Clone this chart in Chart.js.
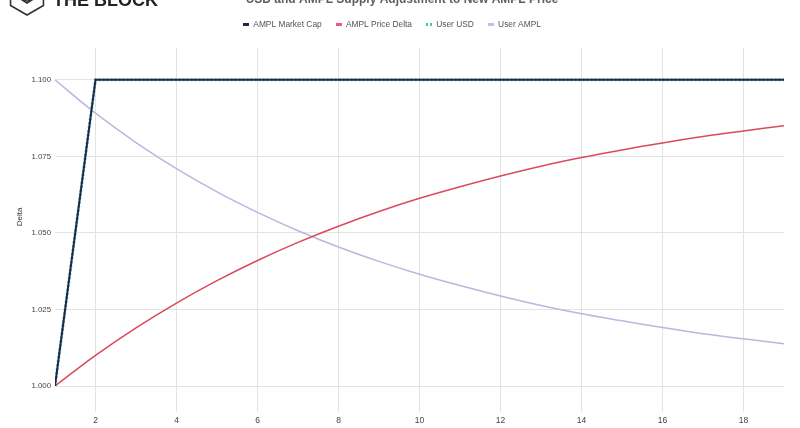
<!DOCTYPE html>
<html>
<head>
<meta charset="utf-8">
<script src="https://cdn.jsdelivr.net/npm/chart.js@4"></script>
<style>
html,body{margin:0;padding:0;background:#fff;}
#wrap{width:800px;height:428px;position:relative;}
</style>
</head>
<body>
<div id="wrap"><canvas id="c" width="800" height="428"></canvas></div>
<script>
const periods = [1,2,3,4,5,6,7,8,9,10,11,12,13,14,15,16,17,18,19];
const marketCap = [1.000,1.100,1.100,1.100,1.100,1.100,1.100,1.100,1.100,1.100,1.100,1.100,1.100,1.100,1.100,1.100,1.100,1.100,1.100];
const priceDelta = [1.0000,1.0100,1.0190,1.0271,1.0344,1.0410,1.0469,1.0522,1.0570,1.0613,1.0651,1.0686,1.0718,1.0746,1.0771,1.0794,1.0815,1.0833,1.0850];
const userUSD = [1.000,1.100,1.100,1.100,1.100,1.100,1.100,1.100,1.100,1.100,1.100,1.100,1.100,1.100,1.100,1.100,1.100,1.100,1.100];
const userAMPL = [1.1000,1.0891,1.0795,1.0710,1.0634,1.0567,1.0507,1.0454,1.0407,1.0365,1.0328,1.0294,1.0263,1.0236,1.0213,1.0191,1.0171,1.0154,1.0138];
const xTicks = [2,4,6,8,10,12,14,16,18];
const yTicks = [1.000,1.025,1.050,1.075,1.100];
const titleText = 'USD and AMPL Supply Adjustment to New AMPL Price';
const brandText = 'THE BLOCK';

function pts(ys){ return periods.map((x,i)=>({x:x,y:ys[i]})); }

const FONT = "'Liberation Sans', Arial, sans-serif";

function marker(color, dotted){
  const c = document.createElement('canvas');
  c.width = 6; c.height = 3;
  const g = c.getContext('2d');
  g.fillStyle = color;
  if (dotted){ g.fillRect(0,0,2,3); g.fillRect(4,0,2,3); }
  else g.fillRect(0,0,6,3);
  return c;
}

const headerPlugin = {
  id:'header',
  afterInit(chart){
    const lg = chart.legend;
    if (lg){
      const f = lg.fit.bind(lg);
      lg.fit = function(){ f(); this.height += 9.4; };
    }
  },
  afterDraw(chart){
    const ctx = chart.ctx;
    ctx.save();
    ctx.font = 'bold 12px ' + FONT;
    ctx.fillStyle = '#5f5f5f';
    ctx.textAlign = 'center';
    ctx.textBaseline = 'alphabetic';
    ctx.fillText(titleText, 402, 3);
    ctx.strokeStyle = '#333';
    ctx.lineWidth = 1.6;
    const cx = 27, cy = -4, r = 19;
    ctx.beginPath();
    for (let k=0;k<6;k++){
      const a = Math.PI/2 + k*Math.PI/3;
      const px = cx + r*Math.cos(a), py = cy + r*Math.sin(a);
      if(k===0) ctx.moveTo(px,py); else ctx.lineTo(px,py);
    }
    ctx.closePath();
    ctx.stroke();
    ctx.beginPath();
    ctx.moveTo(cx-8, -2); ctx.lineTo(cx, 3); ctx.lineTo(cx+8, -2);
    ctx.stroke();
    ctx.beginPath();
    ctx.arc(cx, -3, 4, 0, Math.PI*2);
    ctx.stroke();
    ctx.font = 'bold 18px ' + FONT;
    ctx.fillStyle = '#222';
    ctx.textAlign = 'left';
    ctx.fillText(brandText, 53, 6);
    ctx.restore();
  }
};

new Chart(document.getElementById('c'), {
  type:'line',
  data:{
    datasets:[
      {label:'AMPL Market Cap', data:pts(marketCap), borderColor:'#1d2a47', backgroundColor:'#1d2a47', borderWidth:2, pointRadius:0, pointStyle:marker('#1d2a47',false), tension:0, order:1},
      {label:'AMPL Price Delta', data:pts(priceDelta), borderColor:'#da4a5d', backgroundColor:'#da4a5d', borderWidth:1.5, pointRadius:0, pointStyle:marker('#e0607a',false), tension:0.35, order:2},
      {label:'User USD', data:pts(userUSD), borderColor:'#5ab8c4', backgroundColor:'#5ab8c4', borderWidth:3, borderDash:[2,2], pointRadius:0, pointStyle:marker('#4fc0b8',true), tension:0, order:3},
      {label:'User AMPL', data:pts(userAMPL), borderColor:'#b8b7df', backgroundColor:'#b8b7df', borderWidth:1.5, pointRadius:0, pointStyle:marker('#c0bfe4',false), tension:0.35, order:4}
    ]
  },
  options:{
    responsive:false,
    animation:false,
    devicePixelRatio:1,
    layout:{padding:{top:6,right:16,left:0,bottom:0}},
    plugins:{
      legend:{
        display:true,
        position:'top',
        labels:{
          font:{family:FONT,size:8.4},
          color:'#555',
          usePointStyle:true,
          boxWidth:6,
          boxHeight:3,
          padding:14
        }
      },
      tooltip:{enabled:false}
    },
    scales:{
      x:{
        type:'linear',
        min:1, max:19,
        afterBuildTicks(scale){ scale.ticks = xTicks.map(v=>({value:v})); },
        afterFit(scale){ scale.height = 42; },
        grid:{color:'#e3e3e3', lineWidth:1, drawTicks:true, tickLength:26, tickColor:'#e3e3e3'},
        border:{display:false},
        ticks:{font:{family:FONT,size:8.5}, color:'#444', padding:4, maxRotation:0, callback:(v)=>String(v)}
      },
      y:{
        type:'linear',
        min:1.0, max:1.11046,
        afterBuildTicks(scale){ scale.ticks = yTicks.map(v=>({value:v})); },
        afterFit(scale){ scale.width = 55; },
        grid:{color:'#e3e3e3', lineWidth:1, drawTicks:false},
        border:{display:false},
        title:{display:true, text:'Delta', font:{family:FONT,size:8}, color:'#333', padding:{top:15,bottom:0}},
        ticks:{font:{family:FONT,size:7.8}, color:'#444', padding:4, callback:(v)=>v.toFixed(3)}
      }
    }
  },
  plugins:[headerPlugin]
});
</script>
</body>
</html>
